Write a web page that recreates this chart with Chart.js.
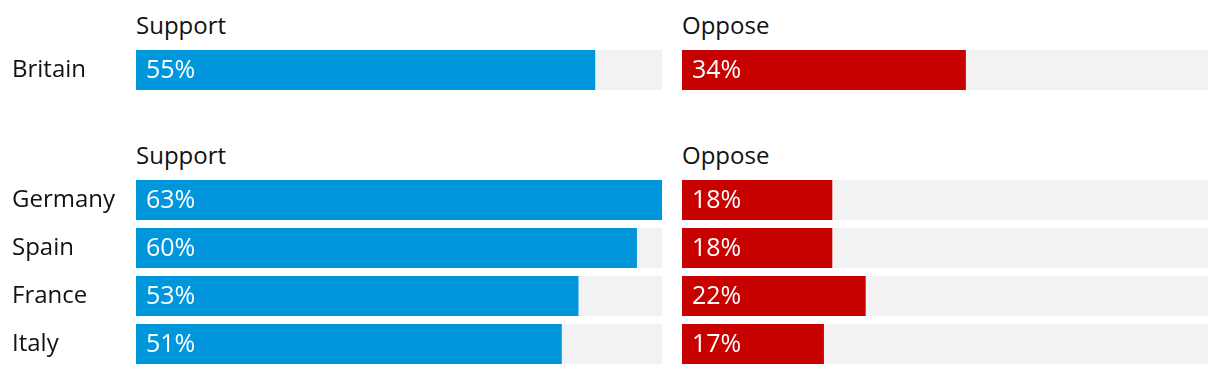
<!DOCTYPE html>
<html>
<head>
<meta charset="utf-8">
<script src="https://cdn.jsdelivr.net/npm/chart.js@4/dist/chart.umd.min.js"></script>
<style>
  html, body { margin: 0; padding: 0; background: #fff; }
  body { width: 1220px; height: 376px; position: relative; overflow: hidden; font-family: "Open Sans", "Noto Sans", sans-serif; }
  .hdr { position: absolute; font-size: 24px; line-height: 24px; color: #121212; white-space: nowrap; }
  canvas { position: absolute; }
</style>
</head>
<body>
<div class="hdr" style="left:136px; top:13px;">Support</div>
<div class="hdr" style="left:682px; top:13px;">Oppose</div>
<div class="hdr" style="left:136px; top:143px;">Support</div>
<div class="hdr" style="left:682px; top:143px;">Oppose</div>

<canvas id="c1" width="662" height="48" style="left:0px; top:46px;"></canvas>
<canvas id="c2" width="526" height="48" style="left:682px; top:46px;"></canvas>
<canvas id="c3" width="662" height="192" style="left:0px; top:176px;"></canvas>
<canvas id="c4" width="526" height="192" style="left:682px; top:176px;"></canvas>

<script>
// ---- data ----
const topCategories = ['Britain'];
const topSupport = [55];
const topOppose = [34];

const categories = ['Germany', 'Spain', 'France', 'Italy'];
const support = [63, 60, 53, 51];
const oppose = [18, 18, 22, 17];

const scaleMax = 63;

// ---- styles ----
const BLUE = '#0096db';
const RED = '#c70000';
const GREY = '#f2f2f2';
const FONT = '"Open Sans", "Noto Sans", sans-serif';

const valueLabels = {
  id: 'valueLabels',
  afterDatasetsDraw(chart) {
    const ctx = chart.ctx;
    const meta = chart.getDatasetMeta(1);
    const data = chart.data.datasets[1].data;
    ctx.save();
    ctx.font = '25px ' + FONT;
    ctx.fillStyle = '#ffffff';
    ctx.textAlign = 'left';
    ctx.textBaseline = 'middle';
    meta.data.forEach((bar, i) => {
      ctx.fillText(data[i] + '%', bar.base + 10, bar.y + 1);
    });
    ctx.restore();
  }
};

function makeChart(id, labels, values, color, showLabels) {
  const yScale = {
    display: showLabels,
    grid: { display: false },
    border: { display: false },
    ticks: {
      crossAlign: 'far',
      color: '#121212',
      font: { family: FONT, size: 24 },
      padding: 0
    }
  };
  if (showLabels) {
    yScale.afterFit = function (scale) {
      scale.width = 124;
      scale.paddingTop = 0;
      scale.paddingBottom = 0;
    };
  }
  return new Chart(document.getElementById(id), {
    type: 'bar',
    data: {
      labels: labels,
      datasets: [
        { data: labels.map(() => scaleMax), backgroundColor: GREY, grouped: false, order: 2 },
        { data: values, backgroundColor: color, grouped: false, order: 1 }
      ]
    },
    options: {
      indexAxis: 'y',
      responsive: false,
      animation: false,
      devicePixelRatio: 1,
      layout: { padding: { left: showLabels ? 12 : 0, right: 0, top: 0, bottom: 0 } },
      datasets: { bar: { barPercentage: 40 / 48, categoryPercentage: 1, borderWidth: 0 } },
      plugins: { legend: { display: false }, tooltip: { enabled: false }, title: { display: false } },
      scales: {
        x: { display: false, min: 0, max: scaleMax },
        y: yScale
      }
    },
    plugins: [valueLabels]
  });
}

makeChart('c1', topCategories, topSupport, BLUE, true);
makeChart('c2', topCategories, topOppose, RED, false);
makeChart('c3', categories, support, BLUE, true);
makeChart('c4', categories, oppose, RED, false);
</script>
</body>
</html>
